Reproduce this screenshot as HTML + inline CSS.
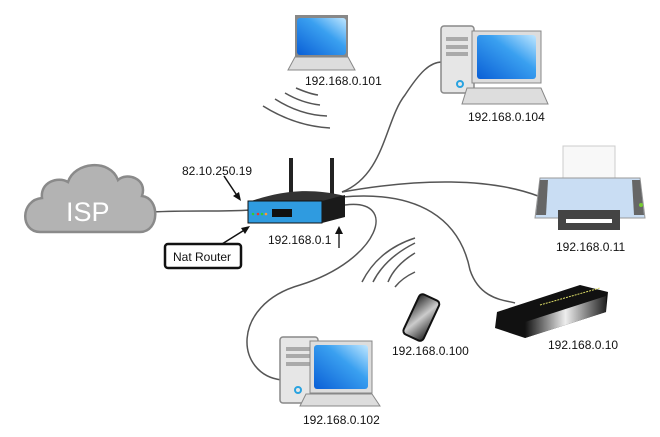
<!DOCTYPE html>
<html><head><meta charset="utf-8"><style>
html,body{margin:0;padding:0;background:#fff;width:660px;height:437px;overflow:hidden}
svg text{font-family:"Liberation Sans",sans-serif;fill:#111}
</style></head><body>
<svg width="660" height="437" viewBox="0 0 660 437" xmlns="http://www.w3.org/2000/svg">
<defs>
<linearGradient id="scr" x1="0" y1="1" x2="1" y2="0"><stop offset="0" stop-color="#0a5fd6"/><stop offset="0.6" stop-color="#3aa0f0"/><stop offset="1" stop-color="#bfe6ff"/></linearGradient>
<linearGradient id="ph" x1="0" y1="0" x2="1" y2="1"><stop offset="0" stop-color="#222"/><stop offset="0.5" stop-color="#ccc"/><stop offset="1" stop-color="#222"/></linearGradient>
<linearGradient id="mod" x1="0" y1="0" x2="1" y2="0"><stop offset="0" stop-color="#111"/><stop offset="0.5" stop-color="#eee"/><stop offset="1" stop-color="#222"/></linearGradient>
</defs>
<g fill="none" stroke="#555" stroke-width="1.5">
<path d="M152,212 C190,210 220,212 250,210"/>
<path d="M342,192 C385,175 385,120 405,95 C420,72 430,62 442,62"/>
<path d="M342,192 C420,178 490,178 538,196"/>
<path d="M342,197 C420,190 460,220 470,270 C480,300 505,300 515,303"/>
<path d="M345,205 C400,198 380,260 300,285 C230,305 235,375 282,380"/>
</g>
<g fill="none" stroke="#555" stroke-width="1.5">
<path d="M296,88 Q310,94 318,95"/><path d="M285,93 Q302,103 320,105"/><path d="M275,99 Q300,115 327,116"/><path d="M263,106 Q295,126 330,128"/>
<path d="M395,287 Q402,278 415,272"/><path d="M388,282 Q395,265 415,253"/><path d="M373,282 Q385,258 415,243"/><path d="M362,282 Q378,250 415,238"/>
</g>
<path d="M40,232 C20,232 20,200 42,198 C40,182 58,176 68,182 C74,162 110,158 118,180 C126,172 148,178 142,196 C160,198 160,232 140,232 Z" fill="#b3b3b3" stroke="#8a8a8a" stroke-width="2.5"/>
<text x="66" y="221" font-size="27" style="fill:#fff">ISP</text>
<rect x="289" y="158" width="4" height="40" fill="#222"/>
<rect x="330" y="158" width="4" height="38" fill="#222"/>
<path d="M248,202 C270,195 300,185 345,196 L320,202 Z" fill="#333"/>
<rect x="248" y="201" width="74" height="22" fill="#2f9be0" stroke="#111"/>
<path d="M322,201 L345,195 L345,217 L322,223 Z" fill="#1a1a1a"/>
<rect x="272" y="209" width="20" height="8" fill="#111"/>
<circle cx="253" cy="214" r="1.3" fill="#3c3"/><circle cx="258" cy="214" r="1.3" fill="#e33"/><circle cx="262" cy="214" r="1.3" fill="#3c3"/><circle cx="266" cy="214" r="1.3" fill="#f93"/>
<text x="182" y="175" font-size="12">82.10.250.19</text>
<line x1="224" y1="176" x2="238" y2="197" stroke="#111" stroke-width="1.5"/><path d="M241,201 L233,196 L239,192 Z" fill="#111"/>
<rect x="165" y="244" width="76" height="24" rx="3" fill="#fff" stroke="#111" stroke-width="2.5"/>
<text x="173" y="261" font-size="12">Nat Router</text>
<line x1="222" y1="244" x2="246" y2="229" stroke="#111" stroke-width="1.5"/><path d="M250,226 L241,228 L245,234 Z" fill="#111"/>
<text x="268" y="244" font-size="12">192.168.0.1</text>
<line x1="339" y1="248" x2="339" y2="232" stroke="#111" stroke-width="1.3"/><path d="M339,226 L335,234 L343,234 Z" fill="#111"/>
<rect x="295" y="15" width="53" height="42" fill="#888"/><rect x="297" y="18" width="49" height="37" rx="3" fill="url(#scr)"/>
<path d="M295,57 L348,57 L355,70 L288,70 Z" fill="#ddd" stroke="#888"/>
<text x="305" y="85" font-size="12">192.168.0.101</text>
<rect x="441" y="26" width="33" height="67" rx="3" fill="#e6e6e6" stroke="#888" stroke-width="1.5"/>
<rect x="446" y="37" width="22" height="4" fill="#aaa"/><rect x="446" y="45" width="22" height="4" fill="#aaa"/><rect x="446" y="52" width="22" height="4" fill="#aaa"/>
<circle cx="460" cy="84" r="3" fill="none" stroke="#29a3e0" stroke-width="2"/>
<rect x="472" y="31" width="69" height="52" fill="#ddd" stroke="#888"/><rect x="477" y="35" width="59" height="44" rx="3" fill="url(#scr)"/>
<path d="M467,88 L541,88 L548,104 L462,104 Z" fill="#ddd" stroke="#888"/>
<text x="468" y="121" font-size="12">192.168.0.104</text>
<path d="M563,146 L615,146 L615,180 Q589,190 563,180 Z" fill="#f8f8f8" stroke="#ccc"/>
<path d="M540,178 L640,178 L645,218 L535,218 Z" fill="#c9ddf3" stroke="#999"/>
<path d="M540,180 L548,180 L546,215 L536,215 Z" fill="#666"/><path d="M632,180 L640,180 L644,215 L634,215 Z" fill="#666"/>
<rect x="558" y="210" width="62" height="20" fill="#444"/><rect x="566" y="219" width="46" height="4" fill="#fff"/>
<circle cx="641" cy="205" r="2" fill="#7c3"/>
<text x="556" y="251" font-size="12">192.168.0.11</text>
<path d="M497,312 L580,285 L608,292 L606,312 L525,338 L495,328 Z" fill="#111"/>
<path d="M525,322 L606,296 L606,312 L525,338 Z" fill="url(#mod)"/>
<path d="M540,305 L600,288" stroke="#dd6" stroke-width="1" stroke-dasharray="2,1"/>
<text x="548" y="349" font-size="12">192.168.0.10</text>
<g transform="rotate(25 420 318)"><rect x="410" y="295" width="22" height="44" rx="4" fill="url(#ph)" stroke="#111" stroke-width="2"/></g>
<text x="392" y="355" font-size="12">192.168.0.100</text>
<rect x="280" y="337" width="38" height="66" rx="3" fill="#e6e6e6" stroke="#888" stroke-width="1.5"/>
<rect x="286" y="347" width="24" height="4" fill="#aaa"/><rect x="286" y="354" width="24" height="4" fill="#aaa"/><rect x="286" y="362" width="24" height="4" fill="#aaa"/>
<circle cx="298" cy="390" r="3" fill="none" stroke="#29a3e0" stroke-width="2"/>
<rect x="310" y="341" width="62" height="52" fill="#ddd" stroke="#888"/><rect x="314" y="345" width="54" height="44" rx="3" fill="url(#scr)"/>
<path d="M306,394 L372,394 L380,406 L300,406 Z" fill="#ddd" stroke="#888"/>
<text x="303" y="424" font-size="12">192.168.0.102</text>
</svg>
</body></html>
